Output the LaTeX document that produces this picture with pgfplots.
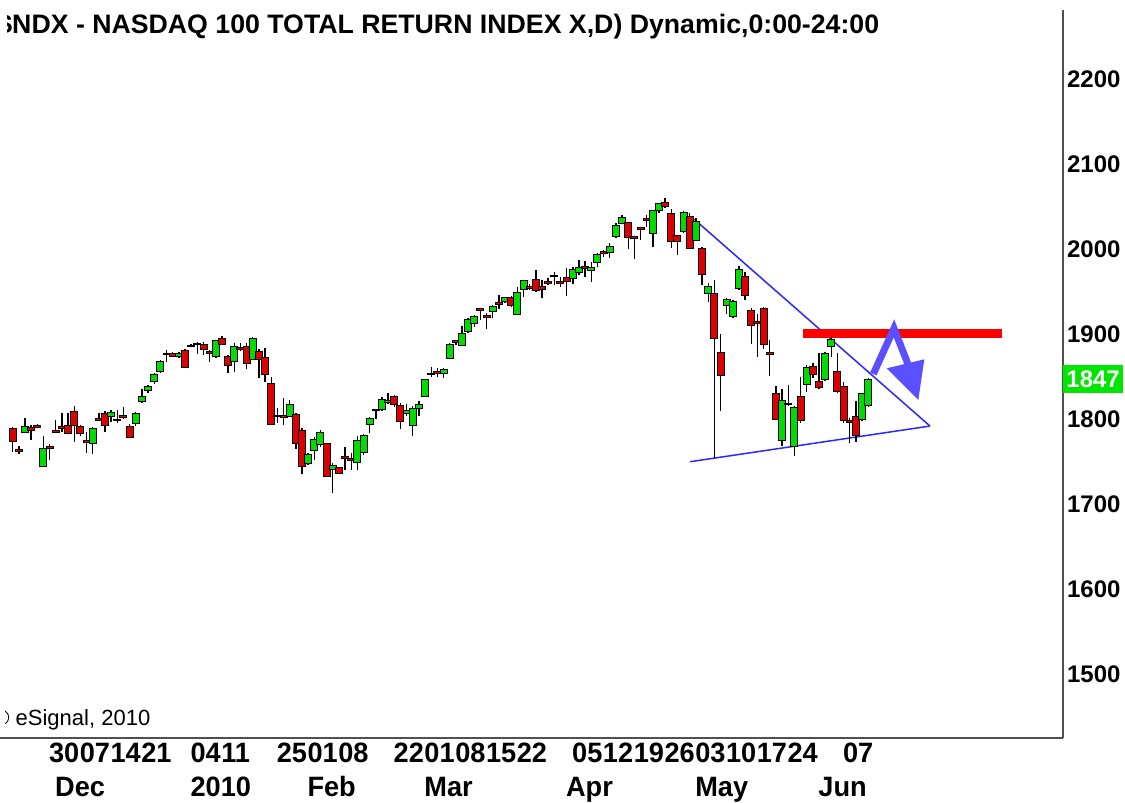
\documentclass[border=0pt]{standalone}
\usepackage{fontspec}
\setmainfont{Liberation Sans}
\newfontfamily\narrowsf[FakeStretch=0.97]{Liberation Sans}
\usepackage{pgfplots}
\usepackage{pgfplotstable}
\pgfplotsset{compat=1.18}

\definecolor{candgreen}{RGB}{0,220,0}
\definecolor{candred}{RGB}{220,0,0}
\definecolor{trend}{RGB}{40,40,255}
\definecolor{arrowblue}{RGB}{90,80,255}
\definecolor{lastgreen}{RGB}{0,230,0}
\definecolor{axisgray}{RGB}{80,80,80}

\pgfdeclareplotmark{nothing}{}

% daily candles, x = trading day (1 = 19 Nov 2009)
\pgfplotstableread{
x o h l c
1 1789.0 1790.0 1761.5 1774.1
2 1763.7 1768.2 1758.8 1761.7
3 1783.9 1800.8 1783.1 1791.0
4 1790.2 1792.9 1775.3 1787.0
5 1792.5 1794.1 1789.0 1790.5
6 1743.9 1780.0 1743.1 1765.5
7 1767.6 1770.6 1751.7 1765.6
8 1786.1 1798.8 1783.1 1784.1
9 1791.2 1806.6 1785.1 1789.2
10 1792.9 1806.6 1782.3 1783.1
11 1808.6 1815.3 1773.3 1792.9
12 1791.0 1792.9 1780.0 1783.1
13 1774.3 1785.1 1760.4 1772.3
14 1771.4 1791.0 1758.8 1789.0
15 1800.6 1807.4 1798.0 1798.6
16 1806.6 1809.4 1785.1 1792.9
17 1803.5 1810.6 1796.8 1807.4
18 1799.8 1810.6 1794.9 1797.8
19 1803.7 1813.7 1799.6 1801.7
20 1791.7 1793.7 1777.2 1778.4
21 1794.9 1808.6 1791.7 1805.9
22 1820.4 1834.9 1819.2 1827.0
23 1834.1 1840.0 1831.0 1838.8
24 1843.9 1853.7 1841.2 1851.8
25 1855.7 1869.4 1854.5 1868.2
26 1877.5 1881.2 1867.4 1875.5
27 1877.2 1879.2 1873.3 1874.1
28 1874.1 1879.2 1872.1 1877.2
29 1880.4 1882.0 1860.0 1860.8
30 1886.9 1888.2 1884.3 1884.9
31 1889.2 1891.0 1876.5 1887.2
32 1888.2 1891.0 1875.3 1881.2
33 1879.0 1881.2 1867.4 1877.0
34 1873.3 1892.9 1871.4 1892.1
35 1894.9 1897.6 1887.1 1888.2
36 1873.3 1875.3 1853.7 1863.5
37 1867.4 1889.8 1855.7 1885.1
38 1884.1 1889.8 1880.4 1882.1
39 1885.1 1889.8 1858.4 1865.5
40 1870.2 1896.1 1869.4 1894.9
41 1879.2 1882.0 1847.8 1869.4
42 1872.5 1883.1 1844.0 1851.8
43 1841.9 1849.0 1792.9 1793.7
44 1804.5 1812.5 1794.9 1802.5
45 1803.7 1824.3 1792.9 1801.7
46 1803.5 1822.3 1801.9 1817.6
47 1804.7 1806.6 1764.3 1771.4
48 1787.0 1789.0 1735.3 1743.9
49 1747.8 1760.4 1745.9 1758.8
50 1762.7 1778.4 1751.7 1776.1
51 1769.4 1787.0 1767.4 1783.9
52 1771.4 1772.1 1732.1 1732.9
53 1740.8 1747.8 1713.3 1744.7
54 1742.7 1743.9 1735.3 1736.1
55 1755.9 1766.6 1740.0 1753.9
56 1753.5 1759.6 1740.0 1751.5
57 1748.6 1780.0 1740.0 1774.5
58 1760.4 1782.3 1757.6 1780.0
59 1794.1 1801.9 1783.1 1800.8
60 1811.2 1812.0 1799.6 1809.6
61 1810.6 1826.3 1809.8 1823.1
62 1819.2 1831.0 1817.6 1822.3
63 1826.3 1828.2 1814.5 1817.6
64 1815.3 1818.4 1787.8 1796.8
65 1806.6 1817.6 1803.5 1809.8
66 1792.9 1815.3 1780.0 1812.5
67 1812.5 1821.6 1803.5 1817.6
68 1827.0 1846.7 1826.3 1845.9
69 1853.9 1861.6 1849.8 1851.9
70 1855.5 1859.6 1849.8 1853.5
71 1853.7 1859.6 1847.8 1858.4
72 1871.3 1889.0 1870.2 1888.2
73 1891.9 1892.9 1887.0 1889.9
74 1887.0 1909.4 1885.8 1900.0
75 1902.7 1919.2 1901.5 1917.2
76 1912.5 1922.3 1907.8 1921.1
77 1929.8 1930.6 1916.4 1928.2
78 1921.4 1924.2 1905.5 1919.4
79 1926.2 1934.1 1918.4 1932.1
80 1937.1 1945.9 1929.0 1935.1
81 1938.0 1943.9 1936.8 1943.1
82 1943.1 1944.7 1932.1 1934.1
83 1923.5 1954.9 1922.3 1948.6
84 1952.5 1963.5 1943.1 1962.7
85 1955.9 1958.8 1951.7 1953.9
86 1964.3 1975.3 1949.8 1951.0
87 1956.4 1963.5 1941.9 1952.5
88 1961.4 1965.5 1957.6 1959.4
89 1969.2 1973.3 1957.6 1967.2
90 1961.4 1967.4 1955.6 1959.4
91 1966.3 1977.2 1944.7 1961.5
92 1965.5 1978.4 1958.8 1975.3
93 1972.1 1987.0 1969.4 1978.4
94 1979.4 1986.2 1966.6 1977.4
95 1974.5 1985.1 1961.5 1978.4
96 1983.9 1994.9 1979.2 1994.1
97 1996.7 1998.8 1991.0 1994.7
98 1995.7 2006.6 1989.0 2003.5
99 2014.5 2030.2 2012.5 2028.2
100 2030.2 2040.0 2029.0 2037.2
101 2030.9 2032.1 1999.6 2013.7
102 2014.5 2015.5 1987.8 2012.9
103 2025.1 2025.9 2010.5 2023.5
104 2035.9 2040.0 2025.5 2033.9
105 2018.4 2045.9 2002.7 2045.1
106 2045.1 2054.5 2042.7 2053.7
107 2054.5 2059.6 2047.8 2049.8
108 2041.2 2046.6 2000.8 2008.6
109 2015.3 2016.4 1992.9 2008.6
110 2020.4 2045.1 2019.2 2042.7
111 2038.8 2041.9 1999.6 2000.8
112 2010.5 2036.0 2009.8 2032.1
113 2000.8 2001.9 1957.6 1969.4
114 1947.8 1959.6 1938.0 1956.4
115 1947.8 1963.5 1753.7 1894.9
116 1878.0 1900.0 1809.8 1851.7
117 1934.1 1941.9 1923.5 1940.8
118 1920.4 1939.9 1918.4 1937.9
119 1953.7 1979.9 1951.7 1975.3
120 1968.2 1973.3 1940.0 1944.7
121 1927.4 1930.2 1888.2 1909.4
122 1914.3 1923.5 1873.3 1912.3
123 1930.2 1931.3 1881.9 1888.2
124 1878.2 1892.9 1850.6 1876.2
125 1829.4 1838.8 1798.8 1799.6
126 1774.5 1834.9 1768.2 1821.5
127 1818.6 1840.0 1815.3 1816.6
128 1768.2 1815.3 1756.4 1813.7
129 1827.0 1849.8 1795.6 1798.0
130 1841.1 1863.5 1832.1 1860.7
131 1862.3 1866.2 1847.8 1852.9
132 1843.9 1877.2 1834.9 1837.2
133 1846.6 1879.2 1845.1 1877.2
134 1885.8 1896.8 1873.3 1893.7
135 1855.7 1878.0 1830.9 1832.1
136 1838.8 1843.9 1795.6 1798.0
137 1797.8 1800.7 1771.3 1795.8
138 1803.5 1821.5 1773.3 1781.1
139 1799.6 1830.9 1798.0 1829.4
140 1815.3 1847.8 1814.5 1846.6
}\candles

\begin{document}
\begin{tikzpicture}
\path[use as bounding box] (0,0) rectangle (562.5pt,401.5pt);

% title, cut at the left like the original window
\begin{scope}
\clip (3.5pt,360pt) rectangle (562.5pt,401.5pt);
\node[anchor=base west, inner sep=0pt, font=\bfseries\fontsize{13.35}{16}\selectfont]
  at (-1.5pt,384.5pt) {\$NDX - NASDAQ 100 TOTAL RETURN INDEX X,D) Dynamic,0:00-24:00};
\end{scope}

\begin{axis}[
  at={(0pt,32.5pt)}, anchor=south west,
  x=3.0775pt, y=0.425pt,
  xmin=-1.063, xmax=171.6,
  ymin=1424.7, ymax=2281.2,
  axis x line*=bottom, axis y line*=right,
  axis line style={draw=axisgray, line width=1pt},
  major tick length=0pt,
  ytick={1500,1600,1700,1800,1900,2000,2100,2200},
  yticklabels={1500,1600,1700,1800,1900,2000,2100,2200},
  yticklabel style={font=\bfseries\fontsize{12}{14}\selectfont, anchor=west, inner sep=0pt, xshift=2pt},
  xtick={7,12,17,22,30,35,44,49,54,63,68,73,78,83,92,97,102,107,112,117,122,127,136},
  xticklabels={30,07,14,21,04,11,25,01,08,22,01,08,15,22,05,12,19,26,03,10,17,24,07},
  xticklabel style={font=\narrowsf\bfseries\fontsize{14}{17}\selectfont, anchor=base west, inner sep=0pt, yshift=-12.5pt, xshift=-0.5pt},
  extra x ticks={8,30,49,68,91,112,132},
  extra x tick labels={Dec,2010,Feb,Mar,Apr,May,Jun},
  extra x tick style={xticklabel style={yshift=-17pt}},
]

\addplot[scatter, only marks, mark=nothing,
  visualization depends on={(\thisrow{o}-\thisrow{c})*0.425 \as \bo},
  visualization depends on={(\thisrow{h}-\thisrow{c})*0.425 \as \bh},
  visualization depends on={(\thisrow{l}-\thisrow{c})*0.425 \as \bl},
  scatter/@pre marker code/.code={%
    \pgfscope
    \pgfsetlinewidth{0.7pt}\pgfsetstrokecolor{black}%
    \pgfpathmoveto{\pgfqpoint{0pt}{\bh pt}}%
    \pgfpathlineto{\pgfqpoint{0pt}{\bl pt}}%
    \pgfusepath{stroke}%
    \ifdim\bo pt>0pt \pgfsetfillcolor{candred}\else\pgfsetfillcolor{candgreen}\fi
    \pgfsetlinewidth{0.5pt}%
    \pgfpathrectangle{\pgfqpoint{-1.75pt}{0pt}}{\pgfqpoint{3.5pt}{\bo pt}}%
    \pgfusepath{fill,stroke}%
    \endpgfscope
  },
  scatter/@post marker code/.code={},
] table[x=x, y=c] {\candles};

% triangle pattern
\addplot[trend, line width=0.75pt] coordinates {(111.74,2034.9) (150.03,1791.7)};
\addplot[trend, line width=0.75pt] coordinates {(111.04,1749.7) (150.03,1791.7)};

% resistance and arrow
\addplot[red, line width=4.5pt] coordinates {(129.4,1901.1) (161.7,1901.1)};
\addplot[arrowblue, line width=3.5pt, line join=miter] coordinates {(140.82,1852.9) (144.18,1906.6) (146.51,1863.5)};
\addplot[arrowblue, fill=arrowblue, draw=none] coordinates {(143.0,1859.6) (149.11,1870.2) (148.13,1822.3)} -- cycle;

\coordinate (lastpt) at (axis cs:171.6,1846.6);
\end{axis}

\node[fill=lastgreen, text=white, font=\bfseries\fontsize{12}{14}\selectfont, anchor=west,
  minimum width=30pt, minimum height=14pt, inner sep=0pt] at (lastpt) {1847};

\begin{scope}
\clip (2.5pt,30pt) rectangle (100pt,50pt);
\node[anchor=base west, inner sep=0pt, font=\fontsize{11}{13}\selectfont]
  at (-3.5pt,38.5pt) {© eSignal, 2010};
\end{scope}
\end{tikzpicture}
\end{document}
